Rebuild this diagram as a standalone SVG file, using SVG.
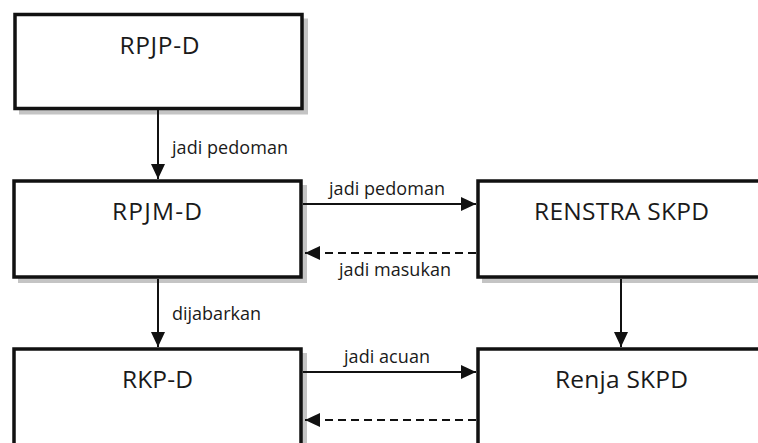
<svg xmlns="http://www.w3.org/2000/svg" width="758" height="443" viewBox="0 0 758 443">
  <style>
    .shadow { fill: #c4c4c4; }
    .box { fill: #ffffff; stroke: #111111; stroke-width: 3.5; }
    .title { font-family: "Open Sans", "Noto Sans", sans-serif; font-size: 24.5px; fill: #1a1a1a; }
    .lbl { font-family: "Open Sans", "Noto Sans", sans-serif; font-size: 18px; fill: #1a1a1a; }
    .line { stroke: #111111; stroke-width: 2; fill: none; }
    .dash { stroke-dasharray: 8 5; }
  </style>
  <defs>
    <marker id="head" markerUnits="userSpaceOnUse" markerWidth="16" markerHeight="14" refX="15" refY="7" orient="auto">
      <path d="M0,0 L15,7 L0,14 Z" fill="#111111"/>
    </marker>
  </defs>
  <rect width="758" height="443" fill="#ffffff"/>

  <g id="rpjp-d">
    <rect class="shadow" x="19" y="18.5" width="289" height="96"/>
    <rect class="box" x="15" y="14.5" width="287" height="94"/>
    <text class="title" x="119.5" y="53.5" textLength="80">RPJP-D</text>
  </g>

  <g id="rpjm-d">
    <rect class="shadow" x="18" y="185" width="289" height="98"/>
    <rect class="box" x="14" y="181" width="287" height="96"/>
    <text class="title" x="112" y="220" textLength="90">RPJM-D</text>
  </g>

  <g id="renstra-skpd">
    <rect class="shadow" x="482" y="185" width="300" height="98"/>
    <rect class="box" x="478" y="181" width="300" height="96"/>
    <text class="title" x="534" y="219.5" textLength="175">RENSTRA SKPD</text>
  </g>

  <g id="rkp-d">
    <rect class="shadow" x="18" y="353" width="289" height="110"/>
    <rect class="box" x="14" y="349" width="287" height="110"/>
    <text class="title" x="122" y="388" textLength="71">RKP-D</text>
  </g>

  <g id="renja-skpd">
    <rect class="shadow" x="482" y="353" width="300" height="110"/>
    <rect class="box" x="478" y="349" width="300" height="110"/>
    <text class="title" x="555" y="388" textLength="133">Renja SKPD</text>
  </g>

  <g id="connectors">
    <line class="line" x1="158" y1="110" x2="158" y2="179" marker-end="url(#head)"/>
    <line class="line" x1="303" y1="204" x2="476" y2="204" marker-end="url(#head)"/>
    <line class="line dash" x1="476" y1="253" x2="305" y2="253" marker-end="url(#head)"/>
    <line class="line" x1="158" y1="279" x2="158" y2="347" marker-end="url(#head)"/>
    <line class="line" x1="621" y1="279" x2="621" y2="347" marker-end="url(#head)"/>
    <line class="line" x1="303" y1="372" x2="476" y2="372" marker-end="url(#head)"/>
    <line class="line dash" x1="476" y1="420" x2="305" y2="420" marker-end="url(#head)"/>

    <text class="lbl" x="172" y="154" textLength="116">jadi pedoman</text>
    <text class="lbl" x="329" y="195" textLength="116">jadi pedoman</text>
    <text class="lbl" x="339" y="276" textLength="112">jadi masukan</text>
    <text class="lbl" x="172" y="320" textLength="89">dijabarkan</text>
    <text class="lbl" x="344" y="363" textLength="86">jadi acuan</text>
  </g>
</svg>
